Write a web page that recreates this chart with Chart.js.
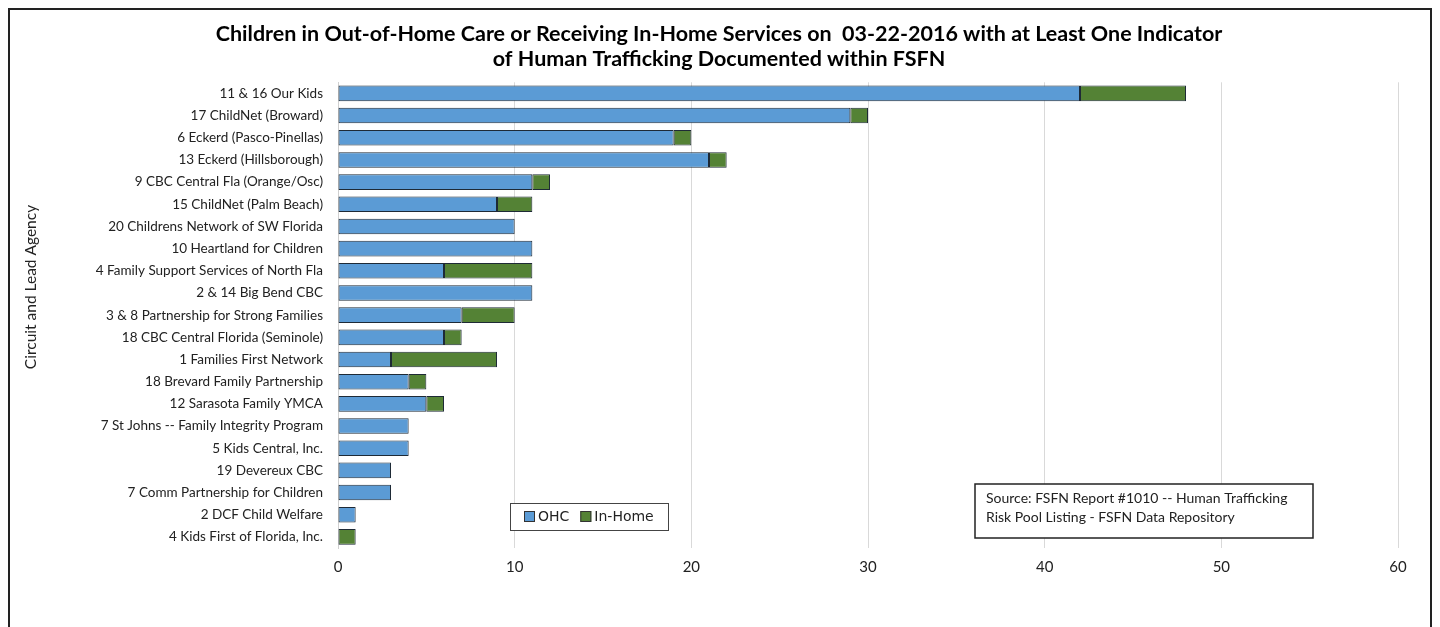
<!DOCTYPE html>
<html>
<head>
<meta charset="utf-8">
<script src="https://cdn.jsdelivr.net/npm/chart.js@4"></script>
<style>
  html, body { margin: 0; padding: 0; background: #fff; }
  #wrap { width: 1440px; height: 627px; position: relative; }
</style>
</head>
<body>
<div id="wrap"><canvas id="htChart" width="1440" height="627"></canvas></div>
<script>
// Data
const agencies = [
  '11 & 16 Our Kids', '17 ChildNet (Broward)', '6 Eckerd (Pasco-Pinellas)',
  '13 Eckerd (Hillsborough)', '9 CBC Central Fla (Orange/Osc)', '15 ChildNet (Palm Beach)',
  '20 Childrens Network of SW Florida', '10 Heartland for Children',
  '4 Family Support Services of North Fla', '2 & 14 Big Bend CBC',
  '3 & 8 Partnership for Strong Families', '18 CBC Central Florida (Seminole)',
  '1 Families First Network', '18 Brevard Family Partnership', '12 Sarasota Family YMCA',
  '7 St Johns -- Family Integrity Program', '5 Kids Central, Inc.', '19 Devereux CBC',
  '7 Comm Partnership for Children', '2 DCF Child Welfare', '4 Kids First of Florida, Inc.'
];
const ohcCounts    = [42, 29, 19, 21, 11, 9, 10, 11, 6, 11, 7, 6, 3, 4, 5, 4, 4, 3, 3, 1, 0];
const inHomeCounts = [6, 1, 1, 1, 1, 2, 0, 0, 5, 0, 3, 1, 6, 1, 1, 0, 0, 0, 0, 0, 1];
const seriesNames = ['OHC', 'In-Home'];
const seriesColors = ['#5B9BD5', '#548235'];
const titleLines = [
  'Children in Out-of-Home Care or Receiving In-Home Services on  03-22-2016 with at Least One Indicator',
  'of Human Trafficking Documented within FSFN'
];
const yTitle = 'Circuit and Lead Agency';
const sourceLines = [
  'Source: FSFN Report #1010 -- Human Trafficking',
  'Risk Pool Listing - FSFN Data Repository'
];

// outer frame
const framePlugin = {
  id: 'frame',
  beforeDraw(chart) {
    const ctx = chart.ctx;
    ctx.save();
    ctx.fillStyle = '#fff';
    ctx.fillRect(0, 0, chart.width, chart.height);
    ctx.strokeStyle = '#222';
    ctx.lineWidth = 2;
    ctx.strokeRect(9, 9, 1422, 640);
    ctx.restore();
  }
};

// extra annotations: y title, legend box, source note
const notesPlugin = {
  id: 'notes',
  afterDraw(chart) {
    const ctx = chart.ctx;
    ctx.save();
    // y axis title
    ctx.translate(31, 287);
    ctx.rotate(-Math.PI / 2);
    ctx.fillStyle = '#222';
    ctx.font = '15.5px Lato';
    ctx.textAlign = 'center';
    ctx.textBaseline = 'middle';
    ctx.fillText(yTitle, 0, 0);
    ctx.restore();

    // legend box
    ctx.save();
    ctx.fillStyle = '#fff';
    ctx.fillRect(510, 503, 158, 27);
    ctx.strokeStyle = '#444';
    ctx.lineWidth = 1;
    ctx.strokeRect(510.5, 503.5, 158, 27);
    ctx.font = '14px "DejaVu Sans"';
    ctx.textBaseline = 'middle';
    let lx = 524;
    chart.data.datasets.forEach((ds) => {
      ctx.fillStyle = ds.backgroundColor;
      ctx.fillRect(lx, 511, 11, 11);
      ctx.strokeStyle = '#333';
      ctx.strokeRect(lx + 0.5, 511.5, 10, 10);
      ctx.fillStyle = '#222';
      ctx.fillText(ds.label, lx + 14, 517);
      lx += 14 + ctx.measureText(ds.label).width + 11;
    });
    ctx.restore();

    // source note
    ctx.save();
    ctx.fillStyle = '#fff';
    ctx.fillRect(975, 484, 338, 54);
    ctx.strokeStyle = '#222';
    ctx.lineWidth = 1.5;
    ctx.strokeRect(975, 484, 338, 54);
    ctx.fillStyle = '#222';
    ctx.font = '14px Lato';
    ctx.textBaseline = 'middle';
    ctx.fillText(sourceLines[0], 986, 498);
    ctx.fillText(sourceLines[1], 986, 517);
    ctx.restore();
  }
};

new Chart(document.getElementById('htChart').getContext('2d'), {
  type: 'bar',
  data: {
    labels: agencies,
    datasets: [ohcCounts, inHomeCounts].map((vals, i) => ({
      label: seriesNames[i],
      data: vals.map(v => v === 0 ? null : v),
      backgroundColor: seriesColors[i],
      borderColor: '#1e2a36',
      borderWidth: 1,
      borderSkipped: false,
      barPercentage: 0.74,
      categoryPercentage: 0.95
    }))
  },
  options: {
    indexAxis: 'y',
    responsive: false,
    animation: false,
    layout: { padding: { top: 10, left: 40, right: 42, bottom: 0 } },
    plugins: {
      legend: { display: false },
      tooltip: { enabled: false },
      title: {
        display: true,
        text: titleLines,
        color: '#000',
        font: { family: 'Lato', size: 21.5, weight: 'bold', lineHeight: 1.17 },
        padding: { top: 11, bottom: 11 }
      }
    },
    scales: {
      x: {
        stacked: true,
        min: 0,
        max: 60,
        ticks: { stepSize: 10, color: '#222', font: { family: 'Lato', size: 15 }, padding: 10 },
        grid: { color: '#d9d9d9', drawTicks: false },
        border: { display: false },
        afterFit(scale) { scale.height = 79; }
      },
      y: {
        stacked: true,
        ticks: { color: '#222', font: { family: 'Lato', size: 13.5 }, padding: 15, autoSkip: false },
        grid: { display: false, drawTicks: false },
        border: { display: true, color: '#d0d0d0' },
        afterFit(scale) { scale.width = 298; }
      }
    }
  },
  plugins: [framePlugin, notesPlugin]
});
</script>
</body>
</html>
